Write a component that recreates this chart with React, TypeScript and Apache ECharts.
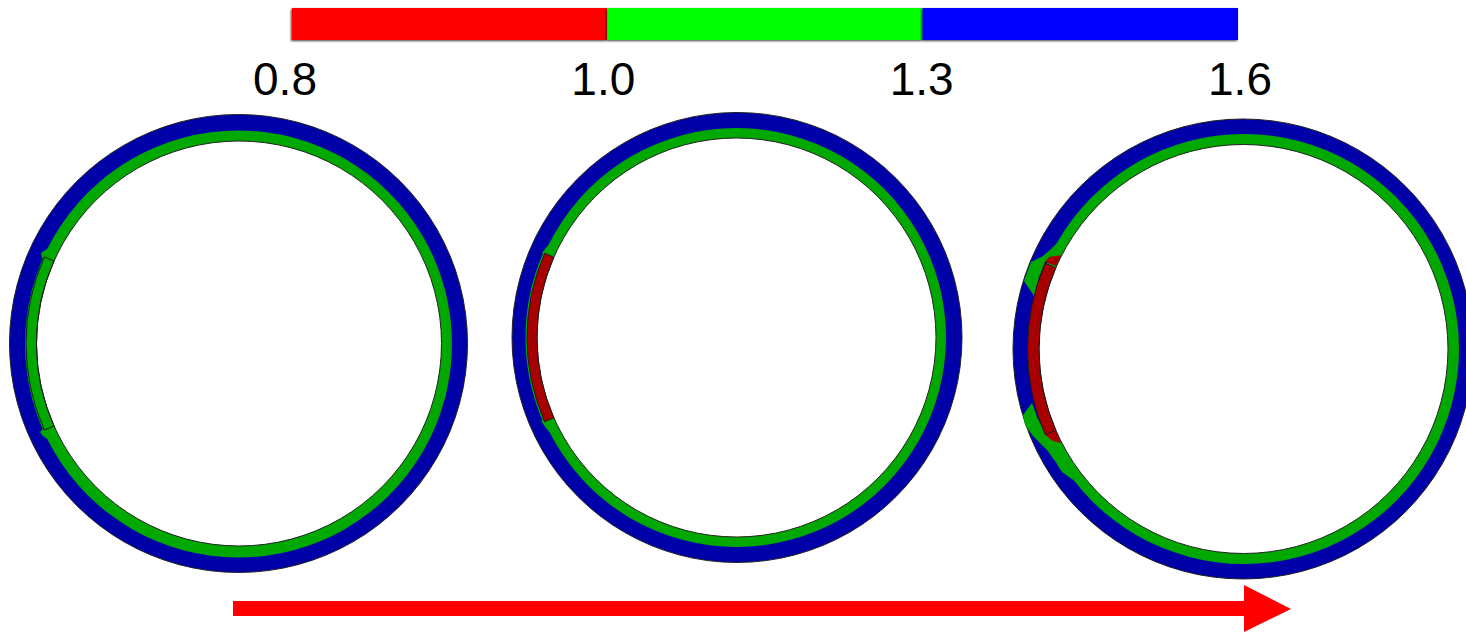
import React, { useEffect, useRef } from "react";
import * as echarts from "echarts";

const W = 1466;
const H = 632;

// colour bar
const tickLabels = ["0.8", "1.0", "1.3", "1.6"];
const bandNames = ["0.8-1.0", "1.0-1.3", "1.3-1.6"];
const bandSpans = [1, 1, 1];
const bandColors = ["#ff0000", "#00ff00", "#0000ff"];

// rings, in image units: [cx, cy, r]
const outerCircles = [[238.5, 343.5, 229], [737, 337.5, 225], [1243, 349, 230]];
const greenCircles = [[238.5, 344, 213.5], [736.5, 337.5, 209.5], [1244, 349, 215]];
const innerCircles = [[239, 343.5, 202.5], [736.5, 337.5, 199.5], [1243.5, 349, 204.5]];
// inserted arc: [r0, r, half angle in degrees]
const insertArcs = [[202.5, 213, 24], [199.5, 209.5, 23.7], [204.5, 216, 23.4]];
const insertFill = ["none", "#a80000", "#a80000"];

const greenPatches = [
  [
    [[41, 253], [50, 247], [56, 234], [60, 240], [56, 252], [46, 258], [42, 258]],
    [[40, 432], [44, 428], [56, 432], [62, 452], [56, 454], [50, 441], [43, 436]],
  ],
  [
    [[542, 253], [545, 249], [550, 243], [556, 250], [548, 256]],
    [[541, 421], [546, 428], [552, 435], [556, 430], [548, 420]],
  ],
  [
    [[1024, 281], [1031, 262], [1043, 256], [1050, 250], [1060, 240], [1064, 255], [1045, 262], [1039, 277], [1034, 296]],
    [[1023, 415], [1032, 403], [1037, 417], [1045, 433], [1053, 442], [1062, 452], [1076, 482], [1062, 472], [1055, 461], [1047, 450], [1033, 436], [1025, 425]],
  ],
];
const redPatches = [
  [],
  [],
  [
    [[1045, 262], [1049, 257], [1062, 255], [1056, 266]],
    [[1045, 435], [1053, 441], [1062, 443], [1056, 430]],
  ],
];

const ringIndex = [0, 1, 2];
const arrowOutline = [[233, 601], [1244, 601], [1244, 585], [1291, 609], [1244, 632], [1244, 616], [233, 616]];

const BLUE = "#0000a8";
const GREEN = "#00a800";
const RED = "#a80000";
const EDGE = "#222222";

function renderRing(params: any, api: any) {
  const i = params.dataIndex;
  const pt = (p: number[]) => api.coord(p);
  const circle = (c: number[], fill: string, stroke: string) => {
    const [cx, cy] = pt([c[0], c[1]]);
    return {
      type: "circle",
      shape: { cx, cy, r: c[2] },
      style: { fill, stroke, lineWidth: stroke === "none" ? 0 : 1 },
    };
  };
  const poly = (points: number[][], fill: string) => ({
    type: "polygon",
    shape: { points: points.map(pt) },
    style: { fill },
  });
  const [cx, cy] = pt([innerCircles[i][0], innerCircles[i][1]]);
  const [r0, r, half] = insertArcs[i];
  const a = (half * Math.PI) / 180;
  const sector = (inner: number, outer: number, ang: number, fill: string, stroke: string) => ({
    type: "sector",
    shape: { cx, cy, r0: inner, r: outer, startAngle: Math.PI - ang, endAngle: Math.PI + ang, clockwise: true },
    style: { fill, stroke, lineWidth: stroke === "none" ? 0 : 1 },
  });
  const children: any[] = [
    circle(outerCircles[i], BLUE, EDGE),
    circle(greenCircles[i], GREEN, "none"),
    ...greenPatches[i].map((p) => poly(p, GREEN)),
    ...redPatches[i].map((p) => poly(p, RED)),
  ];
  if (i === 1) children.push(sector(r0, r + 1.5, a + 0.01, GREEN, "none"));
  children.push(circle(innerCircles[i], "#ffffff", EDGE));
  children.push(sector(r0, r, a, insertFill[i], "#1a1a1a"));
  return { type: "group", children };
}

function renderArrow(_params: any, api: any) {
  return {
    type: "polygon",
    shape: { points: arrowOutline.map((p) => api.coord(p)) },
    style: { fill: "#ff0000" },
  };
}

export default function App() {
  const ref = useRef<HTMLDivElement>(null);
  useEffect(() => {
    document.body.style.margin = "0";
    const chart = echarts.init(ref.current!, undefined, { renderer: "svg" });
    const hiddenValue = { type: "value", show: false, splitLine: { show: false } };
    chart.setOption({
      animation: false,
      backgroundColor: "#ffffff",
      grid: [
        { left: 292, top: 8, width: 946, height: 32 },
        { left: 285, top: 50, width: 955, height: 1 },
        { left: 0, top: 0, width: W, height: H },
      ],
      xAxis: [
        { ...hiddenValue, gridIndex: 0, min: 0, max: 3 },
        {
          type: "value",
          gridIndex: 1,
          min: 0,
          max: 3,
          interval: 1,
          axisLine: { show: false },
          axisTick: { show: false },
          splitLine: { show: false },
          axisLabel: {
            margin: 5,
            fontFamily: "Liberation Sans",
            fontSize: 46,
            color: "#000000",
            showMinLabel: true,
            showMaxLabel: true,
            formatter: (v: number) => tickLabels[Math.round(v)],
          },
        },
        { ...hiddenValue, gridIndex: 2, min: 0, max: W },
      ],
      yAxis: [
        { type: "category", show: false, gridIndex: 0, data: ["scale"] },
        { type: "category", show: false, gridIndex: 1, data: [""] },
        { ...hiddenValue, gridIndex: 2, min: 0, max: H, inverse: true },
      ],
      series: [
        ...bandNames.map((name, i) => ({
          type: "bar",
          name,
          stack: "scale",
          xAxisIndex: 0,
          yAxisIndex: 0,
          barWidth: "100%",
          data: [bandSpans[i]],
          silent: true,
          itemStyle: {
            color: bandColors[i],
            shadowColor: "rgba(0,0,0,0.75)",
            shadowBlur: 2,
            shadowOffsetX: -1,
            shadowOffsetY: 1,
          },
        })),
        {
          type: "custom",
          xAxisIndex: 2,
          yAxisIndex: 2,
          silent: true,
          clip: false,
          data: ringIndex.map((i) => [innerCircles[i][0], innerCircles[i][1]]),
          encode: { x: 0, y: 1 },
          renderItem: renderRing,
        },
        {
          type: "custom",
          xAxisIndex: 2,
          yAxisIndex: 2,
          silent: true,
          clip: false,
          data: [arrowOutline[0]],
          encode: { x: 0, y: 1 },
          renderItem: renderArrow,
        },
      ],
    });
    return () => chart.dispose();
  }, []);
  return <div ref={ref} style={{ width: W, height: H }} />;
}
